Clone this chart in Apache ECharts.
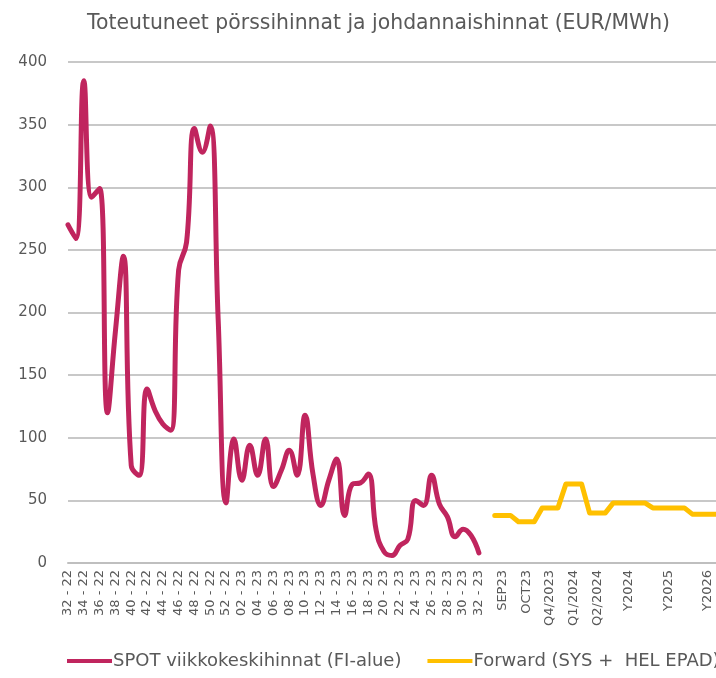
<!DOCTYPE html>
<html>
<head>
<meta charset="utf-8">
<script src="https://cdn.jsdelivr.net/npm/echarts@6/dist/echarts.min.js"></script>
<style>
  html, body { margin: 0; padding: 0; background: #fff; }
  #chart { width: 716px; height: 678px; }
</style>
</head>
<body>
<div id="chart"></div>
<script>
// viikot 32/2022 - 32/2023
var weekLabels = [
  '32 - 22', '33 - 22', '34 - 22', '35 - 22', '36 - 22', '37 - 22', '38 - 22', '39 - 22', '40 - 22', '41 - 22',
  '42 - 22', '43 - 22', '44 - 22', '45 - 22', '46 - 22', '47 - 22', '48 - 22', '49 - 22', '50 - 22', '51 - 22',
  '52 - 22', '01 - 23', '02 - 23', '03 - 23', '04 - 23', '05 - 23', '06 - 23', '07 - 23', '08 - 23', '09 - 23',
  '10 - 23', '11 - 23', '12 - 23', '13 - 23', '14 - 23', '15 - 23', '16 - 23', '17 - 23', '18 - 23', '19 - 23',
  '20 - 23', '21 - 23', '22 - 23', '23 - 23', '24 - 23', '25 - 23', '26 - 23', '27 - 23', '28 - 23', '29 - 23',
  '30 - 23', '31 - 23', '32 - 23'
];
var spotPrices = [
  270, 259, 385, 292, 299, 120, 185, 245, 78, 70,
  139, 122, 111, 106, 234, 256, 347, 328, 349, 195,
  48, 99, 66, 94, 70, 99, 61, 74, 90, 70,
  118, 71, 46, 66, 83, 38, 63, 64, 71, 26,
  9, 6, 14, 19, 50, 46, 70, 47, 37, 21,
  27, 22, 8
];
var forwardProducts = ['SEP23', 'OCT23', 'Q4/2023', 'Q1/2024', 'Q2/2024', 'Y2024', 'Y2025', 'Y2026'];
var forwardPrices = [38, 33, 44, 63, 40, 48, 44, 39];
var forwardSpan = [3, 3, 3, 3, 3, 5, 5, 4];
var yTicks = [0, 50, 100, 150, 200, 250, 300, 350, 400];

// kategoria-akseli: viikot, yksi tyhjä väli, sitten forward-tuotteet
var labels = [];
var spotData = [];
var fwdData = [];
weekLabels.forEach(function (w, i) {
  labels.push(i % 2 === 0 ? w : '');
  spotData.push(spotPrices[i]);
  fwdData.push(null);
});
labels.push('');
spotData.push(null);
fwdData.push(null);
forwardProducts.forEach(function (p, k) {
  for (var j = 0; j < forwardSpan[k]; j++) {
    labels.push(j === Math.floor(forwardSpan[k] / 2) ? p : '');
    fwdData.push(forwardPrices[k]);
  }
});
var cats = labels.map(function (l, i) { return String(i); });

var chart = echarts.init(document.getElementById('chart'));
var font = 'DejaVu Sans';
chart.setOption({
  animation: false,
  title: {
    text: 'Toteutuneet pörssihinnat ja johdannaishinnat (EUR/MWh)',
    left: 82,
    top: 9,
    textStyle: { fontFamily: font, fontSize: 20.4, fontWeight: 'normal', color: '#595959' }
  },
  legend: {
    bottom: 3,
    left: 62,
    width: 1200,
    icon: 'rect',
    itemWidth: 45,
    itemHeight: 4,
    itemGap: 26,
    textStyle: { fontFamily: font, fontSize: 18, color: '#595959', padding: [0, 0, 0, -4] },
    data: ['SPOT viikkokeskihinnat (FI-alue)', 'Forward (SYS +  HEL EPAD)']
  },
  grid: { left: 68, right: 0, top: 62, bottom: 115 },
  xAxis: {
    type: 'category',
    data: cats,
    boundaryGap: false,
    axisLine: { lineStyle: { color: '#bfbfbf', width: 2 } },
    axisTick: { show: false },
    splitLine: { show: false },
    axisLabel: {
      interval: function (i) { return labels[i] !== ''; },
      formatter: function (v, i) { return labels[i]; },
      rotate: 90,
      margin: 7,
      fontFamily: font,
      fontSize: 13,
      color: '#595959'
    }
  },
  yAxis: {
    type: 'value',
    min: yTicks[0],
    max: yTicks[yTicks.length - 1],
    interval: 50,
    axisLine: { show: false },
    axisTick: { show: false },
    splitLine: { lineStyle: { color: '#c8c8c8', width: 2 } },
    axisLabel: { fontFamily: font, fontSize: 15, color: '#595959', margin: 21 }
  },
  series: [
    {
      name: 'SPOT viikkokeskihinnat (FI-alue)',
      type: 'line',
      data: spotData,
      smooth: 0.45,
      showSymbol: false,
      symbol: 'none',
      itemStyle: { color: '#c0255e' },
      lineStyle: { color: '#c0255e', width: 5, cap: 'round', join: 'round' }
    },
    {
      name: 'Forward (SYS +  HEL EPAD)',
      type: 'line',
      data: fwdData,
      showSymbol: false,
      symbol: 'none',
      itemStyle: { color: '#ffc000' },
      lineStyle: { color: '#ffc000', width: 5, cap: 'round', join: 'round' }
    }
  ]
});
</script>
</body>
</html>
